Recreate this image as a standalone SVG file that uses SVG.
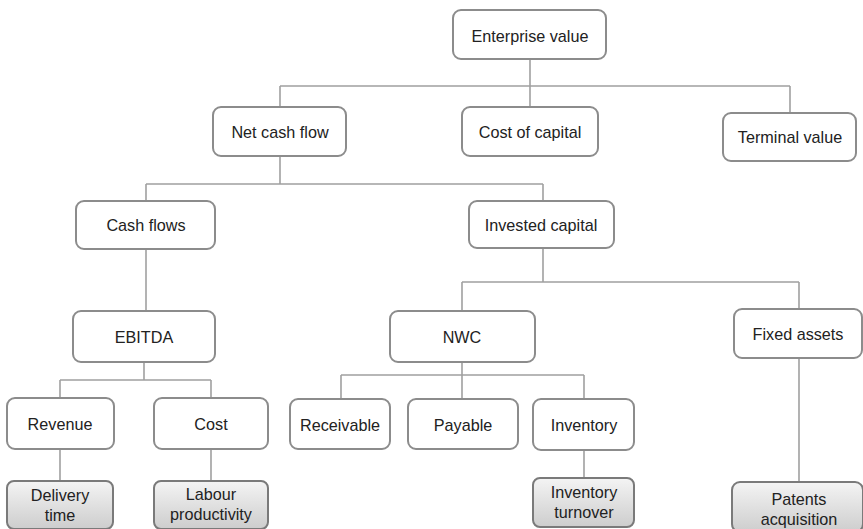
<svg xmlns="http://www.w3.org/2000/svg" width="863" height="529" viewBox="0 0 863 529">
  <defs>
    <linearGradient id="shade" x1="0" y1="0" x2="0" y2="1">
      <stop offset="0" stop-color="#f4f4f4"/>
      <stop offset="1" stop-color="#cdcdcd"/>
    </linearGradient>
    <style>
      .box { fill: #ffffff; stroke: #8c8c8c; stroke-width: 2; }
      .kpi { fill: url(#shade); stroke: #7a7a7a; stroke-width: 2; }
      .lbl { font-family: "Liberation Sans", Arial, sans-serif; font-size: 16.2px; fill: #222222; text-anchor: middle; }
      .wire { fill: none; stroke: #a0a0a0; stroke-width: 1.6; }
    </style>
  </defs>
  <rect width="863" height="529" fill="#ffffff"/>

  <!-- tree connectors -->
  <g id="connectors" class="wire">
    <path d="M530 59 V86 M280 86 H790 M280 86 V107 M530 86 V107 M790 86 V113"/>
    <path d="M280 156 V184 M146 184 H543 M146 184 V201 M543 184 V201"/>
    <path d="M146 249 V311"/>
    <path d="M543 248 V282 M462 282 H799 M462 282 V311 M799 282 V309"/>
    <path d="M144 362 V380 M60 380 H211 M60 380 V398 M211 380 V398"/>
    <path d="M462 362 V375 M341 375 H584 M341 375 V399 M462 375 V399 M584 375 V399"/>
    <path d="M60 449 V481 M211 449 V481 M584 450 V478 M799 358 V482"/>
  </g>

  <g id="enterprise-value">
    <rect class="box" x="453" y="10" width="153" height="49" rx="8"/>
    <text class="lbl" x="530" y="41.5">Enterprise value</text>
  </g>
  <g id="net-cash-flow">
    <rect class="box" x="213" y="107" width="133" height="49" rx="8"/>
    <text class="lbl" x="280" y="138">Net cash flow</text>
  </g>
  <g id="cost-of-capital">
    <rect class="box" x="462" y="107" width="136" height="49" rx="8"/>
    <text class="lbl" x="530" y="138">Cost of capital</text>
  </g>
  <g id="terminal-value">
    <rect class="box" x="723" y="113" width="133" height="48" rx="8"/>
    <text class="lbl" x="790" y="143">Terminal value</text>
  </g>
  <g id="cash-flows">
    <rect class="box" x="76" y="201" width="139" height="48" rx="8"/>
    <text class="lbl" x="146" y="231">Cash flows</text>
  </g>
  <g id="invested-capital">
    <rect class="box" x="469" y="201" width="145" height="47" rx="8"/>
    <text class="lbl" x="541" y="231">Invested capital</text>
  </g>
  <g id="ebitda">
    <rect class="box" x="73" y="311" width="142" height="51" rx="8"/>
    <text class="lbl" x="144" y="343">EBITDA</text>
  </g>
  <g id="nwc">
    <rect class="box" x="390" y="311" width="145" height="51" rx="8"/>
    <text class="lbl" x="462" y="343">NWC</text>
  </g>
  <g id="fixed-assets">
    <rect class="box" x="734" y="309" width="128" height="49" rx="8"/>
    <text class="lbl" x="798" y="340">Fixed assets</text>
  </g>
  <g id="revenue">
    <rect class="box" x="7" y="398" width="107" height="51" rx="8"/>
    <text class="lbl" x="60" y="430">Revenue</text>
  </g>
  <g id="cost">
    <rect class="box" x="154" y="398" width="114" height="51" rx="8"/>
    <text class="lbl" x="211" y="430">Cost</text>
  </g>
  <g id="receivable">
    <rect class="box" x="290" y="399" width="100" height="50" rx="8"/>
    <text class="lbl" x="340" y="431">Receivable</text>
  </g>
  <g id="payable">
    <rect class="box" x="408" y="399" width="110" height="50" rx="8"/>
    <text class="lbl" x="463" y="431">Payable</text>
  </g>
  <g id="inventory">
    <rect class="box" x="533" y="399" width="101" height="51" rx="8"/>
    <text class="lbl" x="584" y="431">Inventory</text>
  </g>
  <g id="delivery-time">
    <rect class="kpi" x="7" y="481" width="106" height="48" rx="7"/>
    <text class="lbl" x="60" y="501">Delivery</text>
    <text class="lbl" x="60" y="521">time</text>
  </g>
  <g id="labour-productivity">
    <rect class="kpi" x="154" y="481" width="114" height="48" rx="7"/>
    <text class="lbl" x="211" y="500">Labour</text>
    <text class="lbl" x="211" y="520">productivity</text>
  </g>
  <g id="inventory-turnover">
    <rect class="kpi" x="533" y="478" width="101" height="49" rx="7"/>
    <text class="lbl" x="584" y="498">Inventory</text>
    <text class="lbl" x="584" y="518">turnover</text>
  </g>
  <g id="patents-acquisition">
    <rect class="kpi" x="732" y="482" width="131" height="50" rx="8"/>
    <text class="lbl" x="799" y="505">Patents</text>
    <text class="lbl" x="799" y="525">acquisition</text>
  </g>
</svg>
